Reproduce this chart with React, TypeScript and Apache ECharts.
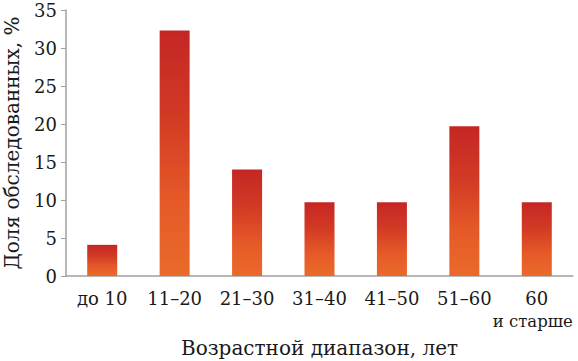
import React, { useEffect, useRef } from "react";
import * as echarts from "echarts";

const categories = ["до 10", "11–20", "21–30", "31–40", "41–50", "51–60", "60\nи старше"];
const shares = [4.1, 32.3, 14.0, 9.7, 9.7, 19.7, 9.7];
const yTicks = { min: 0, max: 35, interval: 5 };
const yName = "Доля обследованных, %";
const xName = "Возрастной диапазон, лет";

const FONT = "DejaVu Serif";

export default function App() {
  const ref = useRef<HTMLDivElement>(null);
  useEffect(() => {
    if (!ref.current) return;
    const chart = echarts.init(ref.current, null, { renderer: "svg" });
    chart.setOption({
      animation: false,
      backgroundColor: "#ffffff",
      textStyle: { fontFamily: FONT },
      grid: {
        left: 66,
        right: 5,
        top: 10,
        bottom: 85,
        containLabel: false,
        outerBoundsMode: "none",
      },
      xAxis: {
        type: "category",
        data: categories,
        name: xName,
        nameLocation: "middle",
        nameGap: 57,
        nameTextStyle: { fontFamily: FONT, fontSize: 20, color: "#1a1a1a" },
        axisLine: { lineStyle: { color: "#a0a0a0", width: 1.5 } },
        axisTick: { show: false },
        axisLabel: {
          fontFamily: FONT,
          fontSize: 18,
          color: "#1a1a1a",
          margin: 11,
          lineHeight: 23,
          interval: 0,
          formatter: (v: string) =>
            v.includes("\n")
              ? v
                  .split("\n")
                  .map((line, i) => (i === 0 ? `{a|${line}}` : `{b|${line}}`))
                  .join("\n")
              : v,
          rich: {
            a: { fontFamily: FONT, fontSize: 18, color: "#1a1a1a", lineHeight: 23, padding: [0, 0, 0, 0] },
            b: { fontFamily: FONT, fontSize: 16.5, color: "#1a1a1a", lineHeight: 23, padding: [0, 8, 0, 0] },
          },
        },
      },
      yAxis: {
        type: "value",
        min: yTicks.min,
        max: yTicks.max,
        interval: yTicks.interval,
        name: yName,
        nameLocation: "middle",
        nameGap: 44,
        nameTextStyle: { fontFamily: FONT, fontSize: 20, color: "#1a1a1a" },
        axisLine: { show: true, lineStyle: { color: "#a0a0a0", width: 1.5 } },
        axisTick: { show: true, length: 5, lineStyle: { color: "#a0a0a0" } },
        splitLine: { show: false },
        axisLabel: { fontFamily: FONT, fontSize: 18, color: "#1a1a1a", margin: 9 },
      },
      series: [
        {
          type: "bar",
          data: shares,
          barWidth: 30,
          itemStyle: {
            color: new echarts.graphic.LinearGradient(0, 0, 0, 1, [
              { offset: 0, color: "#c52624" },
              { offset: 0.35, color: "#d23a24" },
              { offset: 0.7, color: "#e55a28" },
              { offset: 1, color: "#ea6a2a" },
            ]),
          },
        },
      ],
    });
    return () => chart.dispose();
  }, []);
  return <div ref={ref} style={{ width: 578, height: 361, position: "absolute", left: 0, top: 0 }} />;
}
